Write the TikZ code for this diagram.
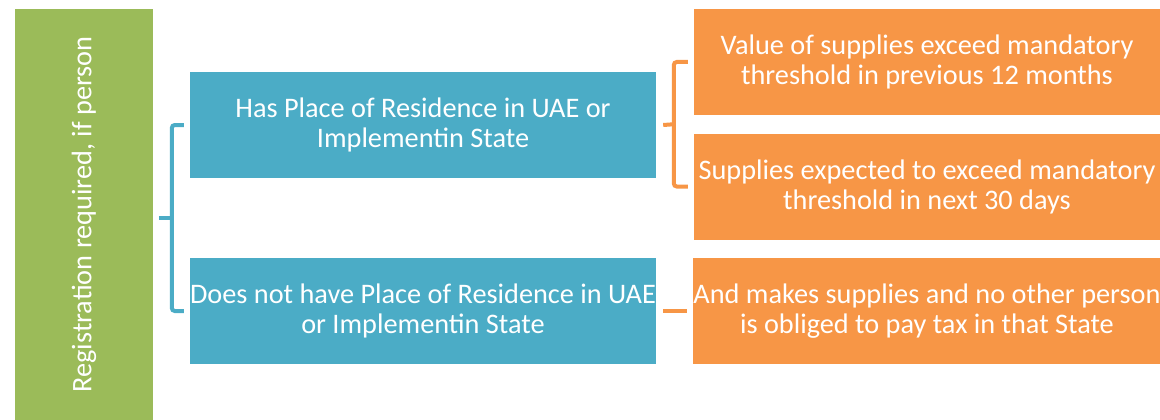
\documentclass[tikz,border=0pt]{standalone}
\usepackage{fontspec}
\setmainfont{Carlito}
\usetikzlibrary{calc}
\definecolor{cgreen}{HTML}{9BBB59}
\definecolor{cblue}{HTML}{4BACC6}
\definecolor{corange}{HTML}{F79646}
\begin{document}
\begin{tikzpicture}[x=1pt,y=-1pt,
  boxtxt/.style={text=white,font=\fontsize{28.3}{30}\selectfont,align=center,inner sep=0pt},
  bluebox/.style={boxtxt,fill=cblue,minimum width=466pt,minimum height=106pt},
  orangebox/.style={boxtxt,fill=corange,minimum width=466pt,minimum height=106pt},
  greenbox/.style={boxtxt,fill=cgreen,rotate=90,minimum width=411pt,minimum height=138pt},
  bluebr/.style={draw=cblue,line width=4pt,rounded corners=3pt},
  orangebr/.style={draw=corange,line width=4pt,rounded corners=3pt}]
\useasboundingbox (0,0) rectangle (1160,420);
\node[greenbox] (g) at (84,214.5) {Registration required, if person};
\node[bluebox] (b1) at (423,125) {Has Place of Residence in UAE or\\Implementin State};
\node[bluebox] (b2) at (423,311) {Does not have Place of Residence in UAE\\or Implementin State};
\node[orangebox] (o1) at (927,62) {Value of supplies exceed mandatory\\threshold in previous 12 months};
\node[orangebox] (o2) at (927,186.5) {Supplies expected to exceed mandatory\\threshold in next 30 days};
\node[orangebox] (o3) at (927,311) {And makes supplies and no other person\\is obliged to pay tax in that State};
% left bracket
\coordinate (m1) at ($(b1.west)!0.5!(b2.west)$);
\draw[bluebr] ([xshift=-6pt]b1.west) -- ([xshift=-18pt]b1.west) |- ([xshift=-6pt]b2.west);
\draw[bluebr,rounded corners=0pt] ([xshift=-31pt]m1) -- ([xshift=-18pt]m1);
% right bracket
\coordinate (m2) at ($(o1.west)!0.5!(o2.west)$);
\draw[orangebr] ([xshift=-6pt]o1.west) -- ([xshift=-20pt]o1.west) |- ([xshift=-6pt]o2.west);
\draw[orangebr,rounded corners=0pt] (b1.east) ++(7pt,0) coordinate (s2) (s2) -- ([xshift=-20pt]m2);
% bottom connector
\draw[orangebr,rounded corners=0pt] ([xshift=7pt]b2.east) -- ([xshift=-6pt]o3.west);
\end{tikzpicture}
\end{document}
